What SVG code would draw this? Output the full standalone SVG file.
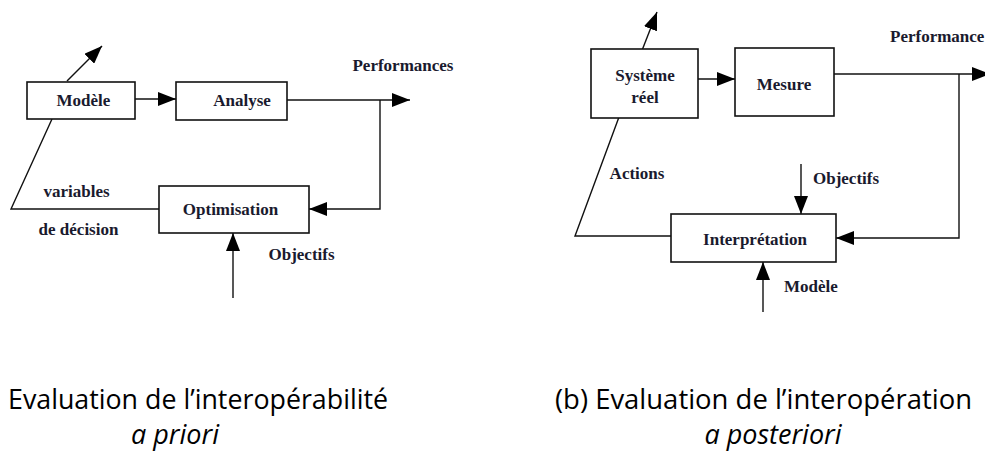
<svg xmlns="http://www.w3.org/2000/svg" width="985" height="457" viewBox="0 0 985 457">
<style>
.box{fill:#fff;stroke:#111;stroke-width:1.6}
.ln{fill:none;stroke:#111;stroke-width:1.4}
.t{font-family:"Liberation Serif","Times New Roman",serif;font-weight:bold;font-size:17px;fill:#1a1a2e}
.c{font-family:"Open Sans","Noto Sans",sans-serif;font-size:27px;fill:#000}
.ci{font-family:"Open Sans","Noto Sans",sans-serif;font-size:27px;font-style:italic;fill:#000}
</style>
<defs>
<marker id="ah" viewBox="0 0 18 14" refX="18" refY="7" markerWidth="18" markerHeight="14" markerUnits="userSpaceOnUse" orient="auto">
<path d="M0,0 L18,7 L0,14 z" fill="#000"/>
</marker>
</defs>
<rect width="985" height="457" fill="#fff"/>
<g id="connectors">
<line class="ln" x1="67" y1="81" x2="102" y2="46" marker-end="url(#ah)"/>
<line class="ln" x1="135" y1="99" x2="176" y2="99" marker-end="url(#ah)"/>
<line class="ln" x1="287" y1="100" x2="410" y2="100" marker-end="url(#ah)"/>
<polyline class="ln" points="380,100 380,209 309,209" marker-end="url(#ah)"/>
<polyline class="ln" points="159,209 11,209 52,119"/>
<line class="ln" x1="233" y1="298" x2="233" y2="233" marker-end="url(#ah)"/>
<line class="ln" x1="641" y1="53" x2="657" y2="12" marker-end="url(#ah)"/>
<line class="ln" x1="698" y1="79" x2="735" y2="79" marker-end="url(#ah)"/>
<line class="ln" x1="834" y1="74" x2="990" y2="74" marker-end="url(#ah)"/>
<polyline class="ln" points="959,74 959,238 836,238" marker-end="url(#ah)"/>
<polyline class="ln" points="671,236 575,236 619,117"/>
<line class="ln" x1="801" y1="164" x2="801" y2="214" marker-end="url(#ah)"/>
<line class="ln" x1="763" y1="312" x2="763" y2="262" marker-end="url(#ah)"/>
</g>
<g id="modele-a">
<rect class="box" x="27" y="82" width="108" height="37"/>
<text class="t" x="83.5" y="106" text-anchor="middle">Modèle</text>
</g>
<g id="analyse">
<rect class="box" x="176" y="82" width="111" height="38"/>
<text class="t" x="242" y="106" text-anchor="middle">Analyse</text>
</g>
<g id="optimisation">
<rect class="box" x="159" y="186" width="150" height="47"/>
<text class="t" x="230.5" y="215" text-anchor="middle">Optimisation</text>
</g>
<g id="labels-a">
<text class="t" x="403" y="71" text-anchor="middle">Performances</text>
<text class="t" x="76.5" y="197" text-anchor="middle">variables</text>
<text class="t" x="78.5" y="235" text-anchor="middle">de décision</text>
<text class="t" x="301.5" y="260" text-anchor="middle">Objectifs</text>
</g>
<g id="systeme">
<rect class="box" x="591" y="49" width="107" height="69"/>
<text class="t" x="645" y="81" text-anchor="middle">Système</text>
<text class="t" x="645" y="103" text-anchor="middle">réel</text>
</g>
<g id="mesure">
<rect class="box" x="735" y="48" width="99" height="68"/>
<text class="t" x="784" y="90" text-anchor="middle">Mesure</text>
</g>
<g id="interpretation">
<rect class="box" x="671" y="214" width="165" height="48"/>
<text class="t" x="755" y="245" text-anchor="middle">Interprétation</text>
</g>
<g id="labels-b">
<text class="t" x="890" y="42">Performance</text>
<text class="t" x="637" y="179" text-anchor="middle">Actions</text>
<text class="t" x="846" y="184" text-anchor="middle">Objectifs</text>
<text class="t" x="811" y="292" text-anchor="middle">Modèle</text>
</g>
<g id="captions">
<text class="c" x="8" y="409" textLength="380" lengthAdjust="spacingAndGlyphs">Evaluation de l’interopérabilité</text>
<text class="ci" x="175" y="444" text-anchor="middle">a priori</text>
<text class="c" x="555" y="409" textLength="417" lengthAdjust="spacingAndGlyphs">(b) Evaluation de l’interopération</text>
<text class="ci" x="773" y="444" text-anchor="middle">a posteriori</text>
</g>
</svg>
